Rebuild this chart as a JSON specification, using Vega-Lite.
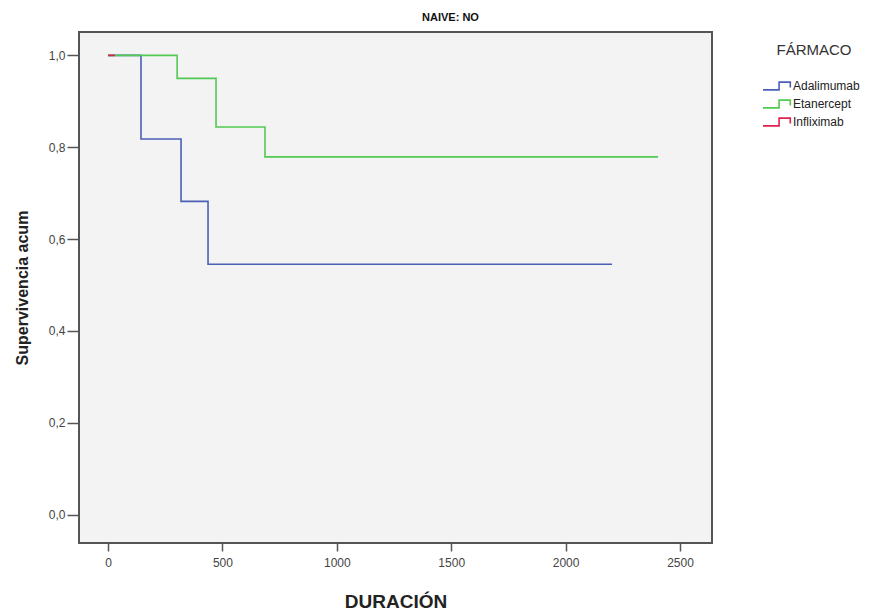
{
  "$schema": "https://vega.github.io/schema/vega-lite/v6.json",
  "autosize": {"type": "none"},
  "width": 633,
  "height": 511,
  "padding": {"left": 79, "top": 32, "right": 178, "bottom": 67},
  "background": "white",
  "title": {
    "text": "NAIVE: NO",
    "font": "Liberation Sans",
    "fontSize": 11,
    "fontWeight": "bold",
    "color": "#111111",
    "anchor": "middle",
    "dx": 55,
    "offset": 9
  },
  "config": {
    "view": {"fill": "#f3f3f3", "stroke": "#555555", "strokeWidth": 2},
    "font": "Liberation Sans"
  },
  "data": {
    "values": [
      {"farmaco": "Adalimumab", "t": 0, "s": 1.0},
      {"farmaco": "Adalimumab", "t": 144, "s": 0.818},
      {"farmaco": "Adalimumab", "t": 319, "s": 0.682},
      {"farmaco": "Adalimumab", "t": 437, "s": 0.545},
      {"farmaco": "Adalimumab", "t": 2203, "s": 0.545},
      {"farmaco": "Etanercept", "t": 0, "s": 1.0},
      {"farmaco": "Etanercept", "t": 302, "s": 0.95},
      {"farmaco": "Etanercept", "t": 472, "s": 0.844},
      {"farmaco": "Etanercept", "t": 686, "s": 0.779},
      {"farmaco": "Etanercept", "t": 2404, "s": 0.779},
      {"farmaco": "Infliximab", "t": 0, "s": 1.0},
      {"farmaco": "Infliximab", "t": 30, "s": 1.0}
    ]
  },
  "mark": {"type": "line", "interpolate": "step-after", "strokeWidth": 1.6},
  "encoding": {
    "x": {
      "field": "t",
      "type": "quantitative",
      "scale": {"domain": [-127, 2640], "nice": false, "zero": false},
      "axis": {
        "values": [0, 500, 1000, 1500, 2000, 2500],
        "format": "d",
        "title": "DURACIÓN",
        "titleFont": "Liberation Sans",
        "titleFontSize": 19,
        "titleFontWeight": "bold",
        "titleColor": "#222222",
        "titlePadding": 24,
        "labelFont": "Liberation Sans",
        "labelFontSize": 12,
        "labelColor": "#444444",
        "labelPadding": 6,
        "tickSize": 8,
        "tickColor": "#555555",
        "tickWidth": 1.5,
        "domain": false,
        "grid": false
      }
    },
    "y": {
      "field": "s",
      "type": "quantitative",
      "scale": {"domain": [-0.062, 1.051], "nice": false, "zero": false},
      "axis": {
        "values": [0, 0.2, 0.4, 0.6, 0.8, 1.0],
        "format": ".1f",
        "labelExpr": "replace(datum.label, '.', ',')",
        "title": "Supervivencia acum",
        "titleFont": "Liberation Sans",
        "titleFontSize": 16,
        "titleFontWeight": "bold",
        "titleColor": "#222222",
        "titlePadding": 18,
        "labelFont": "Liberation Sans",
        "labelFontSize": 12,
        "labelColor": "#444444",
        "labelPadding": 2,
        "tickSize": 12,
        "tickColor": "#555555",
        "tickWidth": 1.5,
        "domain": false,
        "grid": false
      }
    },
    "color": {
      "field": "farmaco",
      "type": "nominal",
      "scale": {
        "domain": ["Adalimumab", "Etanercept", "Infliximab"],
        "range": ["#4b5fb8", "#52c952", "#e0204f"]
      },
      "legend": {
        "title": "FÁRMACO",
        "orient": "none",
        "legendX": 690,
        "legendY": 11,
        "titleFont": "Liberation Sans",
        "titleFontSize": 15,
        "titleFontWeight": "normal",
        "titleColor": "#333333",
        "titleAnchor": "middle",
        "titlePadding": 20,
        "labelFont": "Liberation Sans",
        "labelFontSize": 12,
        "labelColor": "#222222",
        "labelOffset": 8,
        "rowPadding": 2,
        "symbolType": "M-2,0.56H0.3V-0.56H1.9V0.2",
        "symbolSize": 196,
        "symbolStrokeWidth": 1.6,
        "symbolFillColor": "transparent"
      }
    }
  }
}
